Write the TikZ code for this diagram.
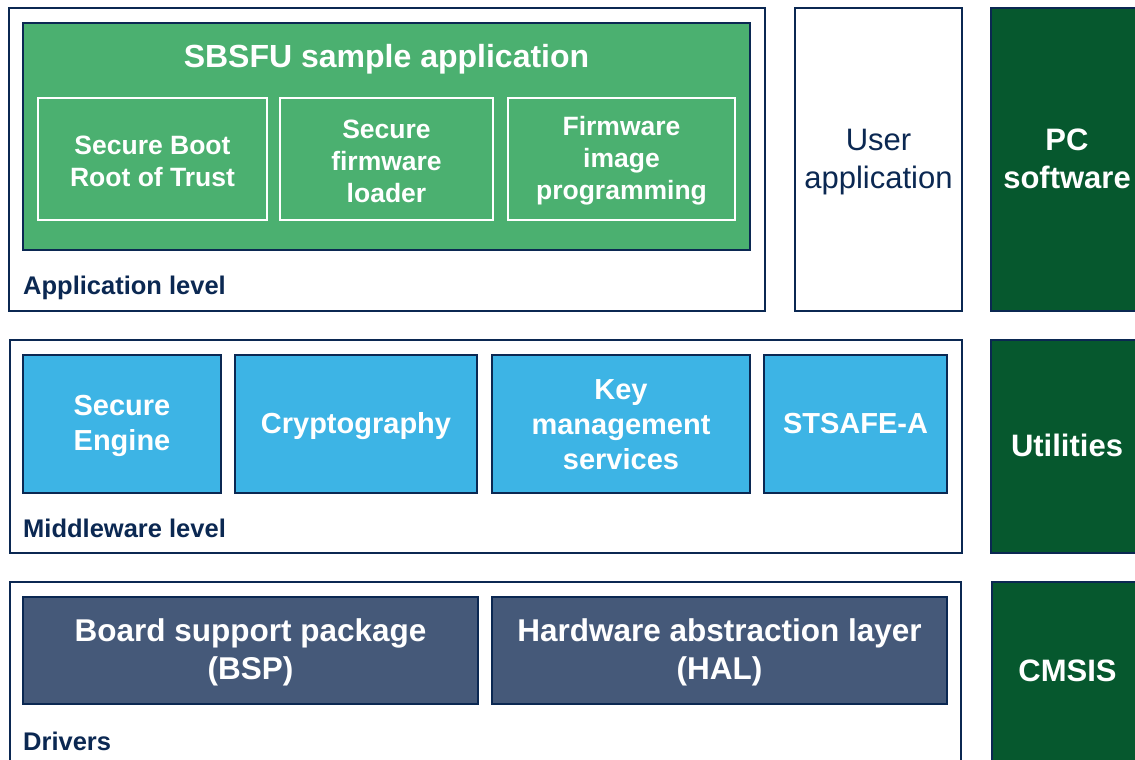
\documentclass[tikz,border=0pt]{standalone}
\usepackage{fontspec}
\setmainfont{Liberation Sans}
\definecolor{stnavy}{HTML}{0B2852}
\definecolor{stgreen}{HTML}{4BB070}
\definecolor{stdgreen}{HTML}{06582E}
\definecolor{stblue}{HTML}{3DB4E5}
\definecolor{stslate}{HTML}{455979}
\newcommand{\fs}[2]{\fontsize{#1bp}{#2bp}\selectfont}
\begin{document}
\begin{tikzpicture}[x=1bp,y=-1bp,
  frame/.style={draw=stnavy,line width=2bp,fill=white,inner sep=0pt},
  greenbox/.style={draw=stnavy,line width=2bp,fill=stgreen,inner sep=0pt},
  subbox/.style={draw=white,line width=2bp,fill=stgreen,inner sep=0pt},
  subtext/.style={inner sep=0pt,text=white,font=\bfseries\fs{26.5}{32},align=center},
  bluebox/.style={draw=stnavy,line width=2bp,fill=stblue,inner sep=0pt},
  bluetext/.style={inner sep=0pt,text=white,font=\bfseries\fs{29}{35},align=center},
  slatebox/.style={draw=stnavy,line width=2bp,fill=stslate,inner sep=0pt},
  slatetext/.style={inner sep=0pt,text=white,font=\bfseries\fs{31.5}{38},align=center},
  darkbox/.style={draw=stnavy,line width=2bp,fill=stdgreen,inner sep=0pt},
  darktext/.style={inner sep=0pt,text=white,font=\bfseries\fs{31}{38},align=center},
  levellabel/.style={anchor=west,inner sep=0pt,text=stnavy,font=\bfseries\fs{25.5}{30}},
]
\useasboundingbox (0,0) rectangle (1135,760);
\clip (0,0) rectangle (1135,760);
% Application level
\node[frame,minimum width=756bp,minimum height=303bp] (app) at (387,159.5) {};
\node[greenbox,minimum width=727bp,minimum height=227bp] (sbsfu) at (386.5,136.5) {};
\node[inner sep=0pt,text=white,font=\bfseries\fs{32}{38}] (sbsfutitle) at (386.5,59.5) {SBSFU sample application};
\node[subbox,minimum width=229bp,minimum height=122bp] (sbrot) at (152.5,159) {};
\node[subtext] (sbrott) at ([yshift=-2bp]sbrot.center) {Secure Boot\\Root of Trust};
\node[subbox,minimum width=213bp,minimum height=122bp] (sfl) at (386.5,159) {};
\node[subtext] (sflt) at ([yshift=-2bp]sfl.center) {Secure\\firmware\\loader};
\node[subbox,minimum width=227bp,minimum height=122bp] (fip) at (621.5,159) {};
\node[subtext] (fipt) at ([yshift=-2bp]fip.center) {Firmware\\image\\programming};
\node[levellabel] (applabel) at (23,288) {Application level};
\node[frame,minimum width=167bp,minimum height=303bp] (user) at (878.5,159.5) {};
\node[inner sep=0pt,text=stnavy,font=\fs{31}{38},align=center] (usert) at ([yshift=-2.5bp]user.center) {User\\application};
\node[darkbox,minimum width=152bp,minimum height=303bp] (pc) at (1067,159.5) {};
\node[darktext] (pct) at ([yshift=1bp]pc.center) {PC\\software};
% Middleware level
\node[frame,minimum width=952bp,minimum height=213bp] (mw) at (486,446.5) {};
\node[bluebox,minimum width=198bp,minimum height=138bp] (se) at (122,424) {};
\node[bluetext] (set) at ([yshift=-2bp]se.center) {Secure\\Engine};
\node[bluebox,minimum width=242bp,minimum height=138bp] (crypto) at (356,424) {};
\node[bluetext] (cryptot) at ([yshift=-2bp]crypto.center) {Cryptography};
\node[bluebox,minimum width=258bp,minimum height=138bp] (kms) at (621,424) {};
\node[bluetext] (kmst) at ([yshift=-1bp]kms.center) {Key\\management\\services};
\node[bluebox,minimum width=183bp,minimum height=138bp] (stsafe) at (855.5,424) {};
\node[bluetext] (stsafet) at ([yshift=0bp]stsafe.center) {STSAFE-A};
\node[levellabel] (mwlabel) at (23,528) {Middleware level};
\node[darkbox,minimum width=152bp,minimum height=213bp] (util) at (1067,446.5) {};
\node[darktext] (utilt) at ([yshift=1bp]util.center) {Utilities};
% Drivers
\node[frame,minimum width=951bp,minimum height=188bp] (drv) at (485.5,676) {};
\node[slatebox,minimum width=455bp,minimum height=107bp] (bsp) at (250.5,650.5) {};
\node[slatetext] (bspt) at ([yshift=-2bp]bsp.center) {Board support package\\(BSP)};
\node[slatebox,minimum width=455bp,minimum height=107bp] (hal) at (719.5,650.5) {};
\node[slatetext] (halt) at ([yshift=-2bp]hal.center) {Hardware abstraction layer\\(HAL)};
\node[levellabel] (drvlabel) at (23,741) {Drivers};
\node[darkbox,minimum width=151bp,minimum height=188bp] (cmsisbox) at (1067.5,676) {};
\node[darktext] (cmsis) at (1067.5,671) {CMSIS};
\end{tikzpicture}
\end{document}
